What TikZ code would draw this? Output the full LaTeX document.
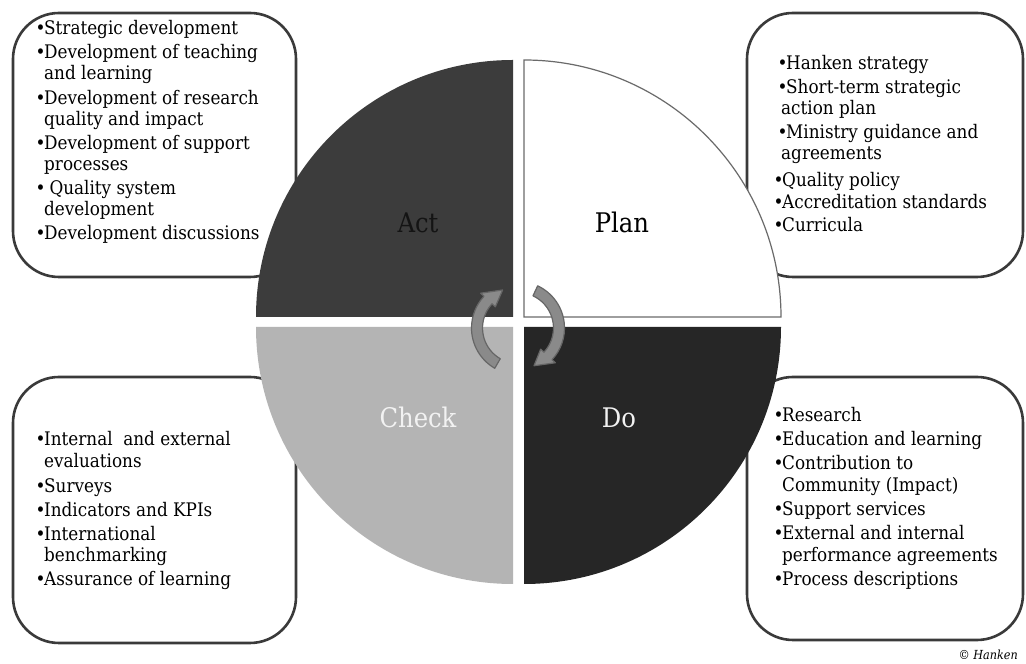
\documentclass[tikz,border=0pt]{standalone}
\usepackage{fontspec}
\setmainfont{DejaVu Serif Condensed}
\definecolor{boxline}{HTML}{3A3A3A}
\definecolor{actc}{HTML}{3C3C3C}
\definecolor{doc}{HTML}{262626}
\definecolor{checkc}{HTML}{B4B4B4}
\definecolor{plane}{HTML}{6A6A6A}
\definecolor{arrowfill}{HTML}{8A8A8A}
\definecolor{arrowedge}{HTML}{666666}
\definecolor{lighttext}{HTML}{F2F2F2}
\newcommand\bul{\makebox[7pt][c]{•}}
\begin{document}
\begin{tikzpicture}[x=1pt,y=1pt,
  box/.style={draw=boxline, line width=2.6pt, fill=white, rounded corners=46pt, inner sep=0pt},
  itm/.style={font=\fontsize{18.7}{22}\selectfont, anchor=base west, inner sep=0pt},
  lbl/.style={font=\fontsize{27}{32}\selectfont, anchor=base, inner sep=0pt},
  cyc/.style={fill=arrowfill, draw=arrowedge, line width=1.2pt, line join=round}]
\useasboundingbox (0,0) rectangle (1026,664);
\fill[white] (0,0) rectangle (1026,664);

% text boxes
\node[box, minimum width=283pt, minimum height=264pt] (actbox) at (154.5,519) {};
\node[box, minimum width=276pt, minimum height=264pt] (planbox) at (885,519) {};
\node[box, minimum width=283pt, minimum height=266pt] (checkbox) at (154.5,154) {};
\node[box, minimum width=276pt, minimum height=263pt] (dobox) at (885,155.5) {};

% quadrants
\fill[actc] (513,347) -- (256,347) arc[start angle=180,end angle=90,radius=257] -- cycle;
\filldraw[fill=white, draw=plane, line width=1.2pt] (524,347) -- (781,347) arc[start angle=0,end angle=90,radius=257] -- cycle;
\fill[checkc] (513,337) -- (513,80) arc[start angle=270,end angle=180,radius=257] -- cycle;
\fill[doc] (524,337) -- (781,337) arc[start angle=0,end angle=-90,radius=257] -- cycle;

% quadrant labels
\node[lbl, text=black!92] (lact) at (418,431) {Act};
\node[lbl, text=black] (lplan) at (622,431) {Plan};
\node[lbl, text=lighttext] (lcheck) at (418,236) {Check};
\node[lbl, text=lighttext] (ldo) at (619,236) {Do};

% Act box
\node[itm] (a1) at (37,629) {\bul Strategic development};
\node[itm] (a2) at (37,605) {\bul Development of teaching};
\node[itm] (a3) at (44,584) {and learning};
\node[itm] (a4) at (37,559) {\bul Development of research};
\node[itm] (a5) at (44,538) {quality and impact};
\node[itm] (a6) at (37,514) {\bul Development of support};
\node[itm] (a7) at (44,493) {processes};
\node[itm] (a8) at (37,469) {\bul\ Quality system};
\node[itm] (a9) at (44,448) {development};
\node[itm] (a10) at (37,424) {\bul Development discussions};

% Plan box
\node[itm] (p1) at (779,594) {\bul Hanken strategy};
\node[itm] (p2) at (779,570) {\bul Short-term strategic};
\node[itm] (p3) at (781,549) {action plan};
\node[itm] (p4) at (779,525) {\bul Ministry guidance and};
\node[itm] (p5) at (781,504) {agreements};
\node[itm] (p6) at (775,477) {\bul Quality policy};
\node[itm] (p7) at (775,455) {\bul Accreditation standards};
\node[itm] (p8) at (775,432) {\bul Curricula};

% Check box
\node[itm] (c1) at (37,218) {\bul Internal\ \ and external};
\node[itm] (c2) at (44,196) {evaluations};
\node[itm] (c3) at (37,171) {\bul Surveys};
\node[itm] (c4) at (37,147) {\bul Indicators and KPIs};
\node[itm] (c5) at (37,123) {\bul International};
\node[itm] (c6) at (44,102) {benchmarking};
\node[itm] (c7) at (37,78) {\bul Assurance of learning};

% Do box
\node[itm] (d1) at (775,242) {\bul Research};
\node[itm] (d2) at (775,218) {\bul Education and learning};
\node[itm] (d3) at (775,194) {\bul Contribution to};
\node[itm] (d4) at (782,172) {Community (Impact)};
\node[itm] (d5) at (775,148) {\bul Support services};
\node[itm] (d6) at (775,124) {\bul External and internal};
\node[itm] (d7) at (782,102) {performance agreements};
\node[itm] (d8) at (775,78) {\bul Process descriptions};

% copyright
\node[font=\fontsize{12.5}{15}\selectfont\itshape, anchor=base east, inner sep=0pt] (copy) at (1018,4) {© Hanken};

% cycle arrows
\begin{scope}[shift={(518,336)}]
\filldraw[cyc] (240:46.5) arc[start angle=240,end angle=137,radius=46.5] -- (137:51) -- (112:41) -- (137:31) -- (137:35.5) arc[start angle=137,end angle=240,radius=35.5] -- cycle;
\filldraw[cyc] (65:46.5) arc[start angle=65,end angle=-43,radius=46.5] -- (-43:51) -- (-67:41) -- (-43:31) -- (-43:35.5) arc[start angle=-43,end angle=65,radius=35.5] -- cycle;
\end{scope}
\end{tikzpicture}
\end{document}
